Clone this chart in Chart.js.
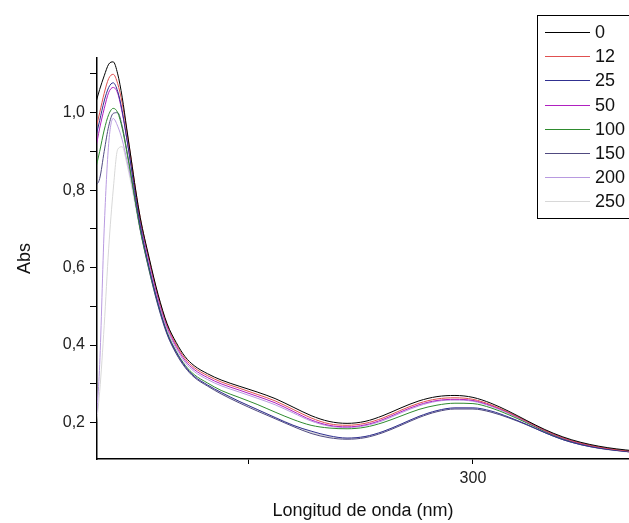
<!DOCTYPE html>
<html>
<head>
<meta charset="utf-8">
<script src="https://cdn.jsdelivr.net/npm/chart.js@4/dist/chart.umd.min.js"></script>
<style>
  body { margin: 0; background: #fff; overflow: hidden; }
</style>
</head>
<body>
<canvas id="chart" width="629" height="523"></canvas>
<script>
// wavelengths (nm)
const wavelengths = [216, 217, 218, 219, 220, 221, 222, 223, 224, 225, 226, 228, 230, 232, 234, 236, 238, 241, 244, 248,
  252, 256, 260, 264, 268, 272, 276, 280, 284, 288, 292, 296, 300, 304, 308, 312, 316, 320, 324, 328, 332, 336];

// absorbance per series (legend label = time)
const abs0 = [1.02, 1.06, 1.095, 1.125, 1.131, 1.10, 1.04, 0.96, 0.88, 0.80, 0.73, 0.625, 0.53, 0.455, 0.407, 0.37, 0.347, 0.326, 0.31, 0.294,
  0.279, 0.262, 0.24, 0.218, 0.203, 0.198, 0.203, 0.218, 0.238, 0.256, 0.267, 0.27, 0.265, 0.25, 0.229, 0.205, 0.182, 0.163, 0.149, 0.139, 0.132, 0.127];
const abs12 = [0.95, 1.00, 1.05, 1.088, 1.099, 1.075, 1.025, 0.955, 0.88, 0.80, 0.73, 0.622, 0.527, 0.452, 0.402, 0.365, 0.342, 0.321, 0.305, 0.289,
  0.273, 0.256, 0.234, 0.212, 0.197, 0.193, 0.198, 0.212, 0.232, 0.25, 0.261, 0.264, 0.26, 0.246, 0.226, 0.203, 0.18, 0.161, 0.147, 0.137, 0.13, 0.125];
const abs25 = [0.93, 0.98, 1.03, 1.065, 1.077, 1.055, 1.005, 0.935, 0.86, 0.78, 0.71, 0.60, 0.505, 0.43, 0.382, 0.345, 0.32, 0.297, 0.278, 0.255,
  0.234, 0.213, 0.193, 0.178, 0.166, 0.16, 0.164, 0.177, 0.196, 0.216, 0.231, 0.238, 0.238, 0.23, 0.214, 0.195, 0.174, 0.156, 0.143, 0.134, 0.128, 0.123];
const abs50 = [0.90, 0.96, 1.01, 1.052, 1.065, 1.05, 1.00, 0.935, 0.862, 0.79, 0.72, 0.615, 0.52, 0.447, 0.397, 0.36, 0.337, 0.316, 0.30, 0.284,
  0.268, 0.251, 0.229, 0.207, 0.193, 0.189, 0.194, 0.208, 0.228, 0.246, 0.257, 0.26, 0.257, 0.244, 0.225, 0.202, 0.179, 0.16, 0.146, 0.136, 0.129, 0.124];
const abs100 = [0.85, 0.90, 0.955, 0.995, 1.011, 1.00, 0.96, 0.90, 0.835, 0.765, 0.70, 0.595, 0.505, 0.433, 0.384, 0.348, 0.324, 0.302, 0.283, 0.265,
  0.247, 0.227, 0.208, 0.193, 0.186, 0.184, 0.188, 0.20, 0.217, 0.234, 0.245, 0.25, 0.249, 0.238, 0.22, 0.199, 0.177, 0.158, 0.145, 0.135, 0.129, 0.124];
const abs150 = [0.81, 0.83, 0.90, 0.965, 0.998, 1.00, 0.965, 0.905, 0.838, 0.765, 0.698, 0.592, 0.50, 0.427, 0.378, 0.342, 0.317, 0.294, 0.274, 0.251,
  0.23, 0.21, 0.19, 0.172, 0.161, 0.157, 0.161, 0.174, 0.193, 0.213, 0.228, 0.235, 0.235, 0.227, 0.212, 0.194, 0.174, 0.156, 0.143, 0.134, 0.128, 0.123];
const abs200 = [0.17, 0.35, 0.70, 0.92, 0.985, 0.965, 0.93, 0.88, 0.825, 0.765, 0.70, 0.60, 0.512, 0.441, 0.391, 0.355, 0.332, 0.311, 0.295, 0.279,
  0.263, 0.246, 0.225, 0.204, 0.191, 0.187, 0.192, 0.205, 0.225, 0.243, 0.255, 0.258, 0.255, 0.242, 0.223, 0.2, 0.177, 0.158, 0.145, 0.135, 0.129, 0.124];
const abs250 = [0.17, 0.28, 0.45, 0.65, 0.80, 0.905, 0.912, 0.87, 0.815, 0.755, 0.695, 0.592, 0.502, 0.429, 0.379, 0.343, 0.319, 0.296, 0.276, 0.254,
  0.234, 0.214, 0.194, 0.175, 0.164, 0.16, 0.164, 0.177, 0.196, 0.216, 0.23, 0.237, 0.236, 0.228, 0.213, 0.194, 0.174, 0.156, 0.143, 0.133, 0.127, 0.122];

const seriesLabels = ["0", "12", "25", "50", "100", "150", "200", "250"];
const seriesValues = [abs0, abs12, abs25, abs50, abs100, abs150, abs200, abs250];
const seriesColors = ["#000000", "#e05050", "#303090", "#b020c0", "#2e8b2e", "#504a80", "#b89ae0", "#d8d8d8"];

const yTicks = [0.2, 0.3, 0.4, 0.5, 0.6, 0.7, 0.8, 0.9, 1.0, 1.1];
const xTicks = [250, 300];
const xTickLabels = { 250: "", 300: "300" };

const FONT = "'Liberation Sans', Arial, sans-serif";

// legend box drawn in the upper right corner, partly cut by the page edge
const boxLegend = {
  id: "boxLegend",
  afterDraw(chart) {
    const ctx = chart.ctx;
    ctx.save();
    ctx.fillStyle = "#fff";
    ctx.fillRect(537, 15, 120, 203);
    ctx.strokeStyle = "#000";
    ctx.lineWidth = 1;
    ctx.strokeRect(537.5, 15.5, 120, 203);
    ctx.font = "18px " + FONT;
    ctx.textBaseline = "middle";
    chart.data.datasets.forEach((ds, i) => {
      const y = Math.round(32 + i * 24.2) + 0.5;
      ctx.strokeStyle = ds.borderColor;
      ctx.beginPath();
      ctx.moveTo(545, y);
      ctx.lineTo(590, y);
      ctx.stroke();
      ctx.fillStyle = "#111";
      ctx.fillText(ds.label, 595, y + 1);
    });
    ctx.restore();
  },
};

new Chart(document.getElementById("chart"), {
  type: "line",
  data: {
    datasets: seriesLabels.map((lab, i) => ({
      label: lab,
      data: wavelengths.map((w, j) => ({ x: w, y: seriesValues[i][j] })),
      borderColor: seriesColors[i],
      borderWidth: 1,
      pointRadius: 0,
      cubicInterpolationMode: "monotone",
      fill: false,
    })),
  },
  options: {
    responsive: false,
    animation: false,
    layout: { padding: { top: 58, right: 0, bottom: 0, left: 0 } },
    plugins: {
      legend: { display: false },
      tooltip: { enabled: false },
    },
    scales: {
      x: {
        type: "linear",
        min: 216.4,
        max: 334.7,
        afterBuildTicks: (s) => { s.ticks = xTicks.map((v) => ({ value: v })); },
        afterFit: (s) => { s.height = 64; },
        grid: { drawOnChartArea: false, tickLength: 5, tickColor: "#000" },
        border: { color: "#000", width: 1.5 },
        ticks: {
          color: "#222",
          font: { family: FONT, size: 16 },
          padding: 5,
          maxRotation: 0,
          callback: (v) => xTickLabels[v] ?? "",
        },
        title: {
          display: true,
          text: "Longitud de onda (nm)",
          color: "#111",
          font: { family: FONT, size: 18 },
          padding: { top: 4, bottom: 1 },
        },
      },
      y: {
        min: 0.106,
        max: 1.141,
        afterBuildTicks: (s) => { s.ticks = yTicks.map((v) => ({ value: v })); },
        afterFit: (s) => { s.width = 97; },
        grid: { drawOnChartArea: false, tickLength: 7, tickColor: "#000" },
        border: { color: "#000", width: 1.5 },
        ticks: {
          color: "#222",
          font: { family: FONT, size: 16 },
          padding: 5,
          callback: (v) => (Math.round(v * 10) % 2 === 0 ? v.toFixed(1).replace(".", ",") : ""),
        },
        title: {
          display: true,
          text: "Abs",
          color: "#111",
          font: { family: FONT, size: 18 },
          padding: { top: 14, bottom: 4 },
        },
      },
    },
  },
  plugins: [boxLegend],
});
</script>
</body>
</html>
